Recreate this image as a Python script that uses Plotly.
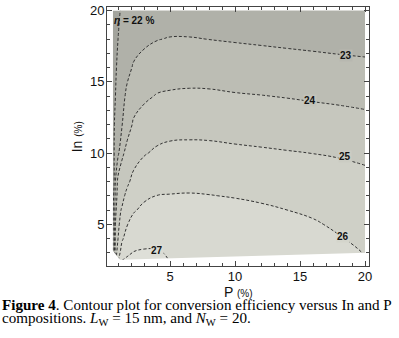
import plotly.graph_objects as go

# ---------------- data ----------------
P_vals = [0.6, 0.7, 0.8, 1.0, 1.3, 1.7, 2.2, 3, 4, 5, 6.5, 8, 10, 12, 14, 16, 18, 20]
In_vals = [2.45, 3, 4, 5, 6, 7, 8, 10, 12, 14, 16, 18, 20]

# conversion efficiency (%) rows follow In_vals, columns follow P_vals
eta_in_2_45 = [21.9, 22.7, 24.8, 26.0, 27.05, 27.1, 27.15, 27.22, 27.2, 26.98, 26.95, 26.9, 26.87, 26.85, 26.78, 26.71, 26.42, 26.03]
eta_in_3 = [21.9, 22.6, 24.5, 25.5, 26.45, 26.9, 27.03, 27.08, 27.06, 26.93, 26.9, 26.85, 26.83, 26.78, 26.67, 26.59, 26.3, 25.96]
eta_in_4 = [21.9, 22.5, 24.2, 25.0, 25.85, 26.44, 26.65, 26.77, 26.81, 26.75, 26.75, 26.7, 26.65, 26.56, 26.44, 26.34, 26.05, 25.81]
eta_in_5 = [21.85, 22.4, 24.0, 24.8, 25.43, 25.96, 26.28, 26.47, 26.54, 26.55, 26.55, 26.5, 26.44, 26.36, 26.22, 26.09, 25.86, 25.66]
eta_in_6 = [21.85, 22.3, 23.7, 24.8, 25.06, 25.58, 25.92, 26.17, 26.27, 26.3, 26.31, 26.27, 26.2, 26.12, 26.0, 25.86, 25.68, 25.51]
eta_in_7 = [21.85, 22.1, 23.3, 24.5, 24.8, 25.19, 25.58, 25.86, 26.01, 26.03, 26.05, 26.02, 25.96, 25.87, 25.76, 25.64, 25.5, 25.36]
eta_in_8 = [21.85, 22.0, 23.0, 24.3, 24.6, 24.85, 25.23, 25.55, 25.71, 25.77, 25.79, 25.77, 25.7, 25.62, 25.52, 25.42, 25.32, 25.21]
eta_in_10 = [21.8, 22.0, 22.4, 22.8, 23.8, 24.3, 24.65, 24.93, 25.14, 25.23, 25.25, 25.24, 25.17, 25.11, 25.05, 24.99, 24.93, 24.84]
eta_in_12 = [21.75, 21.95, 22.2, 22.55, 22.95, 23.6, 24.12, 24.38, 24.58, 24.68, 24.71, 24.69, 24.63, 24.58, 24.51, 24.44, 24.38, 24.29]
eta_in_14 = [21.7, 21.85, 22.0, 22.35, 22.7, 23.2, 23.6, 23.85, 24.05, 24.11, 24.15, 24.14, 24.07, 24.02, 23.96, 23.89, 23.82, 23.74]
eta_in_16 = [21.65, 21.78, 21.9, 22.15, 22.45, 22.75, 23.09, 23.33, 23.51, 23.57, 23.6, 23.58, 23.5, 23.45, 23.39, 23.32, 23.26, 23.2]
eta_in_18 = [21.6, 21.7, 21.8, 22.0, 22.3, 22.5, 22.65, 22.82, 22.97, 23.04, 23.04, 22.99, 22.93, 22.87, 22.81, 22.76, 22.7, 22.66]
eta_in_20 = [21.55, 21.63, 21.72, 21.88, 22.1, 22.2, 22.28, 22.36, 22.45, 22.5, 22.49, 22.45, 22.36, 22.29, 22.24, 22.19, 22.14, 22.12]

contour_levels = [22, 23, 24, 25, 26, 27]

# lower edge of the computed domain (white outside)
edge_P = [0.55, 1.15, 20.1, 20.1, 0.55]
edge_In = [3.2, 2.5, 3.0, 2.2, 2.2]

# contour labels
label_texts = ["<i>η</i> = 22 %", "23", "24", "25", "26", "27"]
label_P = [2.2, 18.54, 15.77, 18.46, 18.3, 4.0]
label_In = [19.3, 16.86, 13.68, 9.74, 4.15, 3.15]
label_bg = ["rgba(0,0,0,0)", "#b7b8b0", "#c2c3ba", "#cbccc3", "#d4d5cc", "#dbdcd4"]

x_ticks = [5, 10, 15, 20]
y_ticks = [5, 10, 15, 20]

eta = [eta_in_2_45, eta_in_3, eta_in_4, eta_in_5, eta_in_6, eta_in_7, eta_in_8,
       eta_in_10, eta_in_12, eta_in_14, eta_in_16, eta_in_18, eta_in_20]

band_colors = ["#a3a49d", "#b0b1a9", "#bcbdb4", "#c6c7be", "#cfd0c7", "#d8d9d1", "#dedfd8"]
n = len(band_colors) - 1
colorscale = [[i / n, c] for i, c in enumerate(band_colors)]

fig = go.Figure()
fig.add_trace(go.Contour(
    x=P_vals, y=In_vals, z=eta,
    autocontour=False,
    contours=dict(start=contour_levels[0], end=contour_levels[-1],
                  size=contour_levels[1] - contour_levels[0],
                  coloring="fill", showlabels=False),
    colorscale=colorscale, showscale=False,
    line=dict(color="#333333", width=1, dash="3px,2px", smoothing=1.3),
    hoverinfo="skip",
))
fig.add_trace(go.Scatter(
    x=edge_P, y=edge_In, mode="lines", fill="toself",
    fillcolor="white", line=dict(width=0, color="white"),
    hoverinfo="skip", showlegend=False,
))

for t, px, py, bg in zip(label_texts, label_P, label_In, label_bg):
    fig.add_annotation(x=px, y=py, xref="x", yref="y", text="<b>" + t + "</b>",
                       showarrow=False, bgcolor=bg, borderpad=0,
                       font=dict(family="Liberation Sans", size=10, color="#111"))

axis_common = dict(
    showline=True, linecolor="#444", linewidth=1, mirror="allticks",
    ticks="inside", ticklen=5, tickcolor="#444", tickwidth=1,
    minor=dict(ticks="inside", ticklen=3, dtick=1, tick0=0, tickcolor="#444"),
    showgrid=False, zeroline=False, ticklabeloverflow="allow",
    tickfont=dict(family="Liberation Sans", size=13, color="#111"),
)
fig.update_xaxes(range=[0.15, 20.3], tickvals=x_ticks, ticklabelstandoff=-2, **axis_common)
fig.update_yaxes(range=[2.07, 20.25], tickvals=y_ticks, ticklabelstandoff=-1, **axis_common)

# axis titles
fig.add_annotation(x=0.5, y=-0.101, xref="paper", yref="paper",
                   text="P <span style='font-size:10px'>(%)</span>", showarrow=False,
                   xanchor="center", yanchor="middle",
                   font=dict(family="Liberation Sans", size=14, color="#111"))
fig.add_annotation(x=-0.115, y=0.5, xref="paper", yref="paper",
                   text="In <span style='font-size:10px'>(%)</span>", showarrow=False,
                   textangle=-90, xanchor="center", yanchor="middle",
                   font=dict(family="Liberation Sans", size=14, color="#111"))

# caption
cap_font = dict(family="Liberation Serif", size=15.1, color="black")
fig.add_annotation(x=-0.409, y=-0.149, xref="paper", yref="paper",
                   text="<b>Figure 4</b>. Contour plot for conversion efficiency versus In and P",
                   showarrow=False, xanchor="left", yanchor="middle", font=cap_font)
fig.add_annotation(x=-0.409, y=-0.206, xref="paper", yref="paper",
                   text="compositions. <i>L</i><sub>W</sub> = 15 nm, and <i>N</i><sub>W</sub> = 20.",
                   showarrow=False, xanchor="left", yanchor="middle", font=cap_font)

fig.update_layout(
    width=399, height=338,
    margin=dict(l=107, r=30, t=3, b=72),
    plot_bgcolor="white", paper_bgcolor="white",
    showlegend=False,
)
fig.write_html("out.html", config={"displayModeBar": False},
               post_script="document.body.style.margin='0';")
